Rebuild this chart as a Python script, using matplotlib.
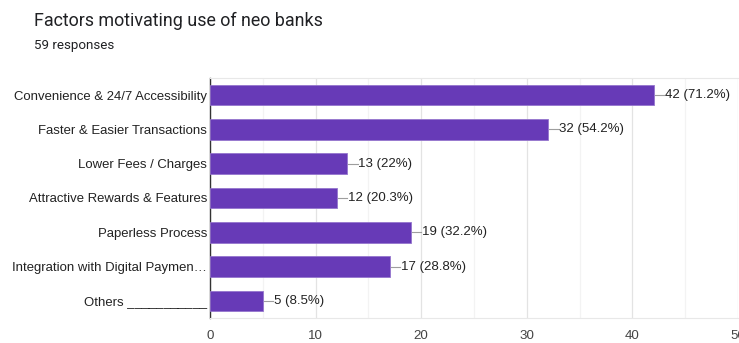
import matplotlib.pyplot as plt

# Survey results
categories = [
    "Convenience & 24/7 Accessibility",
    "Faster & Easier Transactions",
    "Lower Fees / Charges",
    "Attractive Rewards & Features",
    "Paperless Process",
    "Integration with Digital Paymen\u2026",
    "Others ___________",
]
counts = [42, 32, 13, 12, 19, 17, 5]
percents = ["71.2%", "54.2%", "22%", "20.3%", "32.2%", "28.8%", "8.5%"]
xticks = [0, 10, 20, 30, 40, 50]

purple = "#673AB7"

fig = plt.figure(figsize=(7.39, 3.43), dpi=100)
ax = fig.add_axes([0.2842, 0.0729, 0.7145, 0.6997])

ypos = list(range(len(categories)))
ax.barh(ypos, counts, height=0.6, color=purple, edgecolor="#9575cd", linewidth=0.6, zorder=3)

# leader line and value label next to each bar
for y, c, p in zip(ypos, counts, percents):
    ax.plot([c + 0.1, c + 1.0], [y, y], color="#9e9e9e", linewidth=0.8, zorder=3)
    ax.text(c + 1.05, y, f"{c} ({p})", va="center", ha="left",
            fontsize=9.5, color="#222222", family="Liberation Sans")

ax.set_ylim(len(categories) - 0.5, -0.5)
ax.set_xlim(0, 50)
ax.set_yticks(ypos)
ax.set_yticklabels(categories, fontsize=9.45, color="#222222", family="Liberation Sans")
ax.set_xticks(xticks)
ax.set_xticklabels([str(t) for t in xticks], fontsize=9.6, color="#444444", family="Liberation Sans")
ax.set_xticks([5, 15, 25, 35, 45], minor=True)

ax.grid(axis="x", which="major", color="#e3e3e3", linewidth=0.9, zorder=0)
ax.grid(axis="x", which="minor", color="#f3f3f3", linewidth=0.9, zorder=0)
ax.tick_params(axis="both", which="both", length=0)
ax.tick_params(axis="x", pad=9)
ax.tick_params(axis="y", pad=2)

for side in ["top", "right", "bottom"]:
    ax.spines[side].set_color("#e8e8e8")
ax.spines["right"].set_visible(False)
ax.spines["left"].set_color("#333333")
ax.spines["left"].set_linewidth(1.0)

fig.text(0.046, 0.94, "Factors motivating use of neo banks", fontsize=12.9,
         color="#202124", family="Roboto", va="center")
fig.text(0.046, 0.868, "59 responses", fontsize=9.6, color="#202124",
         family="Roboto", va="center")

fig.savefig("out.png", dpi=100)
